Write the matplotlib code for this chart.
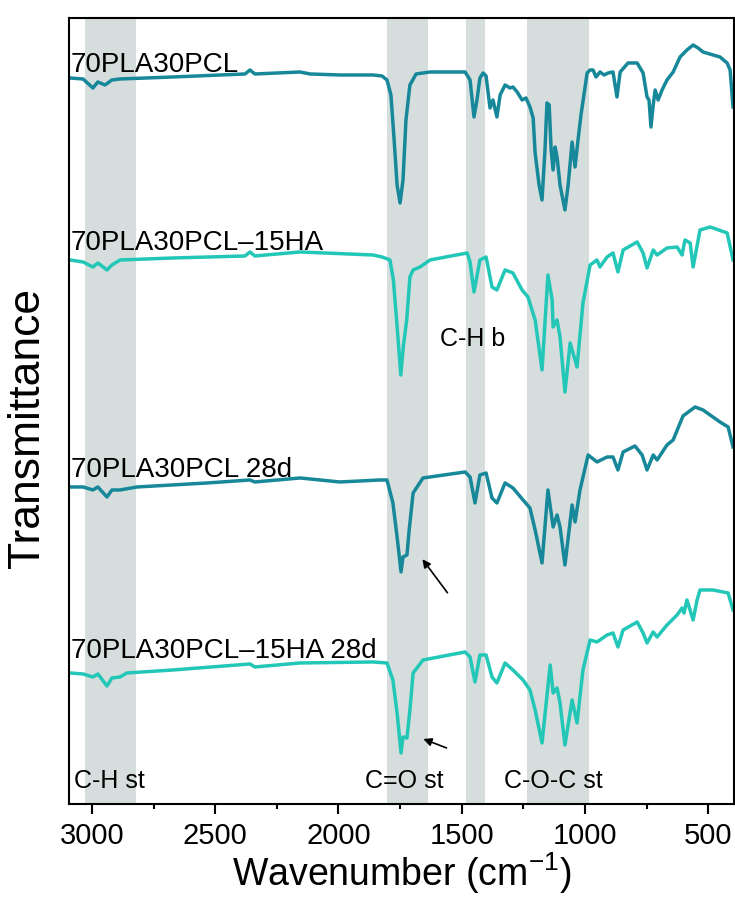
import matplotlib
matplotlib.use('Agg')
import matplotlib.pyplot as plt
from matplotlib.ticker import MultipleLocator

plt.rcParams['font.family'] = ['Liberation Sans', 'DejaVu Sans']
plt.rcParams['mathtext.default'] = 'regular'

# FTIR spectra (wavenumber in cm-1, transmittance in a.u., stacked)
wn_pcl = [3089, 3036, 2996, 2976, 2947, 2919, 2886, 2671, 2379, 2359, 2339, 2156, 2115, 1994,
          1860, 1823, 1803, 1787, 1774, 1762, 1750, 1738, 1726, 1710, 1685, 1628, 1486, 1466,
          1450, 1438, 1426, 1413, 1401, 1385, 1373, 1357, 1344, 1324, 1304, 1292, 1275, 1255,
          1239, 1223, 1210, 1202, 1186, 1174, 1162, 1154, 1145, 1137, 1129, 1121, 1113, 1101,
          1081, 1068, 1052, 1040, 1028, 1016, 991, 979, 967, 955, 939, 922, 906, 886, 870, 857,
          825, 788, 764, 748, 740, 732, 723, 715, 703, 687, 667, 642, 614, 586, 561, 541, 521,
          480, 452, 423, 411, 399]
t_pcl = [72.6, 72.5, 71.6, 72.2, 71.9, 72.4, 72.5, 72.7, 73.0, 73.4, 73.0, 73.2, 73.0, 72.9,
         72.9, 72.8, 72.4, 70.9, 66.4, 61.9, 60.1, 62.4, 68.4, 71.9, 73.0, 73.2, 73.2, 72.4,
         68.7, 70.4, 72.6, 73.1, 72.8, 69.6, 70.4, 68.7, 70.9, 71.9, 71.6, 71.7, 71.2, 70.4,
         70.6, 69.7, 68.6, 65.1, 61.9, 60.4, 65.4, 70.1, 69.9, 65.4, 63.4, 65.7, 64.7, 61.9,
         59.4, 61.9, 66.2, 63.7, 66.4, 68.9, 73.1, 73.4, 73.4, 72.7, 73.2, 72.9, 73.1, 73.2,
         70.7, 73.2, 74.1, 74.1, 73.1, 70.7, 70.4, 67.7, 69.9, 71.4, 70.4, 71.4, 72.4, 73.2,
         74.7, 75.4, 75.9, 75.6, 75.2, 74.9, 74.7, 74.1, 73.4, 69.7]

wn_pcl_ha = [3089, 3036, 2996, 2976, 2939, 2919, 2886, 2671, 2379, 2359, 2339, 2156, 1860,
             1823, 1791, 1777, 1764, 1747, 1737, 1723, 1710, 1697, 1669, 1628, 1478, 1466,
             1450, 1426, 1401, 1377, 1357, 1324, 1292, 1255, 1231, 1202, 1174, 1150, 1133,
             1129, 1113, 1101, 1081, 1060, 1032, 1008, 979, 951, 939, 910, 886, 866, 845, 788,
             764, 748, 723, 707, 667, 626, 606, 594, 573, 561, 533, 492, 423, 399]
t_pcl_ha = [54.4, 54.2, 53.7, 54.1, 53.4, 53.9, 54.4, 54.6, 54.8, 55.2, 54.8, 55.2, 54.9,
            54.7, 54.4, 52.4, 48.4, 42.9, 45.7, 48.4, 52.7, 53.4, 53.7, 54.4, 55.1, 54.2,
            51.2, 54.4, 54.7, 51.7, 51.4, 53.4, 53.1, 51.4, 50.7, 48.4, 43.4, 52.9, 50.4,
            47.7, 48.4, 46.7, 41.2, 46.1, 43.7, 50.1, 53.9, 54.4, 53.7, 54.7, 55.1, 53.2,
            55.4, 56.2, 55.1, 53.6, 55.4, 54.9, 55.6, 55.7, 54.9, 56.4, 56.1, 53.7, 57.4,
            57.7, 57.1, 54.4]

wn_pcl_28d = [3089, 3036, 2996, 2976, 2939, 2919, 2886, 2817, 2533, 2359, 2339, 2156, 1994,
              1831, 1803, 1779, 1762, 1746, 1738, 1722, 1713, 1697, 1657, 1486, 1466, 1446,
              1426, 1401, 1377, 1357, 1324, 1292, 1251, 1223, 1202, 1174, 1150, 1129, 1113,
              1101, 1081, 1052, 1040, 1020, 987, 951, 910, 886, 866, 845, 797, 768, 748, 723,
              707, 667, 642, 602, 553, 521, 452, 419, 399]
t_pcl_28d = [31.7, 31.7, 31.4, 31.7, 30.7, 31.4, 31.4, 31.7, 32.1, 32.4, 32.2, 32.6, 32.2,
             32.4, 32.4, 30.1, 26.7, 23.2, 24.7, 24.9, 27.4, 31.1, 32.6, 33.2, 32.7, 30.1,
             32.9, 33.1, 30.6, 30.1, 32.1, 31.6, 30.4, 29.6, 27.4, 24.1, 31.4, 27.7, 28.9,
             27.7, 23.9, 29.9, 28.2, 31.4, 34.9, 34.2, 34.7, 34.7, 33.4, 35.2, 35.8, 34.9,
             33.4, 34.9, 34.4, 35.9, 36.4, 38.8, 39.7, 39.4, 38.2, 37.7, 35.7]

wn_pcl_ha_28d = [3089, 3036, 2996, 2976, 2939, 2919, 2886, 2858, 2671, 2359, 2339, 2156, 1860,
                 1803, 1779, 1762, 1746, 1738, 1722, 1710, 1697, 1657, 1486, 1466, 1446, 1426,
                 1401, 1377, 1357, 1324, 1292, 1251, 1223, 1202, 1174, 1141, 1129, 1113, 1101,
                 1081, 1052, 1032, 1008, 979, 951, 910, 886, 866, 845, 788, 764, 748, 723, 707,
                 667, 626, 606, 598, 586, 561, 545, 533, 480, 419, 399]
t_pcl_ha_28d = [13.1, 13.0, 12.7, 13.0, 11.8, 12.6, 12.7, 13.1, 13.4, 14.0, 13.7, 14.1, 14.2,
                14.1, 12.4, 9.1, 5.1, 6.7, 6.6, 9.4, 13.1, 14.4, 15.2, 14.7, 12.2, 14.9,
                14.9, 12.7, 12.1, 14.1, 13.4, 12.4, 11.4, 9.4, 6.1, 13.9, 11.1, 11.6, 10.1,
                5.9, 10.4, 8.1, 13.4, 16.4, 16.2, 16.9, 17.1, 15.7, 17.4, 18.2, 17.1, 16.1,
                17.2, 16.7, 17.9, 18.9, 19.6, 19.1, 20.4, 18.4, 20.4, 21.4, 21.4, 21.1, 19.4]

# sample names and where the label sits on each curve
names = ['70PLA30PCL', '70PLA30PCL\u201315HA', '70PLA30PCL 28d', '70PLA30PCL\u201315HA 28d']
name_levels = [73.2, 55.4, 32.7, 14.6]

# band assignments (shaded regions)
bands = [(3028, 2823), (1802, 1635), (1482, 1405), (1236, 982)]
band_names = ['C-H st', 'C=O st', 'C-O-C st']
band_name_x = [3073, 1892, 1328]

dark = '#17889a'
light = '#22c7b8'

fig = plt.figure(figsize=(7.35, 8.99), dpi=100)
ax = fig.add_axes([0.0939, 0.1057, 0.9048, 0.8743])

for lo, hi in bands:
    ax.axvspan(lo, hi, color='#d5dddd', lw=0, zorder=0)

ax.plot(wn_pcl, t_pcl, color=dark, lw=2.5, solid_joinstyle='round')
ax.plot(wn_pcl_ha, t_pcl_ha, color=light, lw=2.5, solid_joinstyle='round')
ax.plot(wn_pcl_28d, t_pcl_28d, color=dark, lw=2.5, solid_joinstyle='round')
ax.plot(wn_pcl_ha_28d, t_pcl_ha_28d, color=light, lw=2.5, solid_joinstyle='round')

for name, lev in zip(names, name_levels):
    ax.text(3085, lev, name, fontsize=20, ha='left', va='baseline')

for name, x in zip(band_names, band_name_x):
    ax.text(x, 1.6, name, fontsize=18, ha='left', va='baseline')
ax.text(1588, 45.8, 'C-H b', fontsize=18, ha='left', va='baseline')

# arrows pointing at the C=O shoulder
ax.annotate('', xy=(1666, 24.7), xytext=(1551, 20.9),
            arrowprops=dict(arrowstyle='-|>', color='black', lw=1.2, mutation_scale=12))
ax.annotate('', xy=(1666, 6.6), xytext=(1551, 5.5),
            arrowprops=dict(arrowstyle='-|>', color='black', lw=1.2, mutation_scale=12))

ax.set_xlim(3093, 395)
ax.set_ylim(0, 78.6)
ax.xaxis.set_major_locator(MultipleLocator(500))
ax.xaxis.set_minor_locator(MultipleLocator(250))
ax.tick_params(axis='x', which='major', length=7, width=1.5, labelsize=21, pad=6)
ax.tick_params(axis='x', which='minor', length=3.5, width=1.5)
ax.set_yticks([])
for s in ax.spines.values():
    s.set_linewidth(1.5)

ax.set_xlabel('Wavenumber (cm$^{-1}$)', fontsize=27, va='center')
ax.xaxis.set_label_coords(0.5, -0.088)
ax.set_ylabel('Transmittance', fontsize=32, va='center')
ax.yaxis.set_label_coords(-0.062, 0.478)

fig.savefig('out.png', dpi=100)
